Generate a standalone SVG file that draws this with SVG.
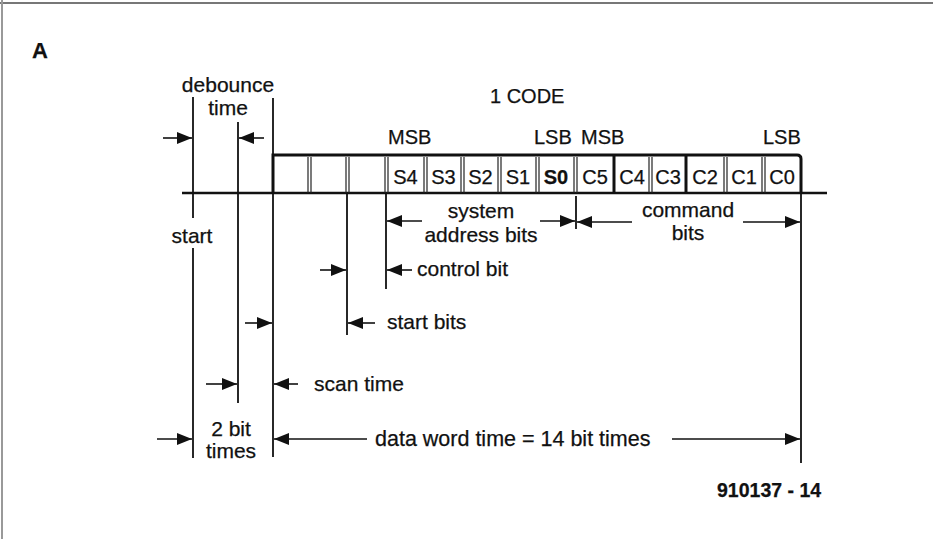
<svg xmlns="http://www.w3.org/2000/svg" width="933" height="539" viewBox="0 0 933 539">
<defs>
<marker id="ah" markerUnits="userSpaceOnUse" markerWidth="16" markerHeight="14" viewBox="0 0 16 14" refX="15" refY="7" orient="auto">
<path d="M0,1 L15,7 L0,13 z" fill="#111"/>
</marker>
<style>
text{font-family:"Liberation Sans",Arial,sans-serif;fill:#111;stroke:#111;stroke-width:0.25}
.lb{font-size:21px}
.ms{font-size:20px}
.cl{font-size:20px;text-anchor:middle}
.c{text-anchor:middle}
.thin{stroke:#111;stroke-width:1.8;fill:none}
.arr{stroke:#111;stroke-width:1.6;fill:none;marker-end:url(#ah)}
.dv{stroke:#222;stroke-width:1.2}
</style>
</defs>
<rect width="933" height="539" fill="#fff"/>
<line x1="0" y1="3" x2="933" y2="3" stroke="#777" stroke-width="2"/>
<line x1="2" y1="0" x2="2" y2="539" stroke="#999" stroke-width="2"/>

<g id="label-A"><text x="32" y="58" style="font-size:22px;font-weight:bold">A</text></g>
<g id="title"><text x="490" y="103" class="ms">1 CODE</text></g>
<g id="debounce"><text x="228" y="92" class="lb c">debounce</text><text x="228" y="115" class="lb c">time</text></g>
<g id="msb-lsb">
<text x="388" y="144" class="ms">MSB</text>
<text x="534" y="144" class="ms">LSB</text>
<text x="581" y="144" class="ms">MSB</text>
<text x="763" y="144" class="ms">LSB</text>
</g>

<g id="code-word">
<path d="M182,193 H827" stroke="#111" stroke-width="2.6" fill="none"/>
<path d="M273,193 V155 H797 Q801,155 801,159 V193" stroke="#111" stroke-width="3" fill="none"/>
<g>
<line class="dv" x1="308" y1="157" x2="308" y2="193"/><line class="dv" x1="311" y1="157" x2="311" y2="193"/>
<line class="dv" x1="346" y1="157" x2="346" y2="193"/><line class="dv" x1="349" y1="157" x2="349" y2="193"/>
<line class="dv" x1="385" y1="157" x2="385" y2="193"/><line class="dv" x1="388" y1="157" x2="388" y2="193"/>
<line class="dv" x1="424" y1="157" x2="424" y2="193"/><line class="dv" x1="427" y1="157" x2="427" y2="193"/>
<line class="dv" x1="461" y1="157" x2="461" y2="193"/><line class="dv" x1="464" y1="157" x2="464" y2="193"/>
<line class="dv" x1="498" y1="157" x2="498" y2="193"/><line class="dv" x1="501" y1="157" x2="501" y2="193"/>
<line class="dv" x1="536" y1="157" x2="536" y2="193"/><line class="dv" x1="539" y1="157" x2="539" y2="193"/>
<line class="dv" x1="574" y1="157" x2="574" y2="193"/><line class="dv" x1="577" y1="157" x2="577" y2="193"/>
<line x1="614" y1="156" x2="614" y2="193" stroke="#111" stroke-width="3"/>
<line class="dv" x1="649" y1="157" x2="649" y2="193"/><line class="dv" x1="652" y1="157" x2="652" y2="193"/>
<line x1="686" y1="156" x2="686" y2="193" stroke="#111" stroke-width="3"/>
<line class="dv" x1="724" y1="157" x2="724" y2="193"/><line class="dv" x1="727" y1="157" x2="727" y2="193"/>
<line class="dv" x1="762" y1="157" x2="762" y2="193"/><line class="dv" x1="765" y1="157" x2="765" y2="193"/>
</g>
<text x="405.5" y="184" class="cl">S4</text>
<text x="443.5" y="184" class="cl">S3</text>
<text x="480.5" y="184" class="cl">S2</text>
<text x="518" y="184" class="cl">S1</text>
<text x="556" y="184" class="cl" style="font-weight:bold">S0</text>
<text x="595" y="184" class="cl">C5</text>
<text x="632" y="184" class="cl">C4</text>
<text x="668" y="184" class="cl">C3</text>
<text x="705" y="184" class="cl">C2</text>
<text x="744" y="184" class="cl">C1</text>
<text x="782" y="184" class="cl">C0</text>
</g>

<g id="system-address"><text x="481" y="218" class="lb c">system</text><text x="481" y="242" class="lb c">address bits</text></g>
<g id="command"><text x="688" y="217" class="lb c">command</text><text x="688" y="240" class="lb c">bits</text></g>
<g id="start"><text x="192" y="243" class="lb c">start</text></g>
<g id="control-bit"><text x="417" y="276" class="lb">control bit</text></g>
<g id="start-bits"><text x="387" y="329" class="lb">start bits</text></g>
<g id="scan-time"><text x="314" y="391" class="lb">scan time</text></g>
<g id="two-bit-times"><text x="231" y="436" class="lb c">2 bit</text><text x="231" y="458" class="lb c">times</text></g>
<g id="data-word"><text x="375" y="446" style="font-size:21.5px">data word time = 14 bit times</text></g>
<g id="fig-number"><text x="717" y="497" style="font-size:19.5px;font-weight:bold">910137 - 14</text></g>

<g id="connectors">
<line class="thin" x1="193" y1="97" x2="193" y2="218"/>
<line class="thin" x1="193" y1="248" x2="193" y2="458"/>
<line class="thin" x1="238" y1="122" x2="238" y2="403"/>
<line class="thin" x1="273" y1="98" x2="273" y2="457"/>
<line class="thin" x1="347" y1="193" x2="347" y2="335"/>
<line class="thin" x1="386" y1="193" x2="386" y2="289"/>
<line class="thin" x1="576" y1="196" x2="576" y2="229"/>
<line class="thin" x1="801" y1="183" x2="801" y2="463"/>

<line class="arr" x1="163" y1="138" x2="192" y2="138"/>
<line class="arr" x1="264" y1="138" x2="239" y2="138"/>
<line class="arr" x1="422" y1="221" x2="387" y2="221"/>
<line class="arr" x1="540" y1="221" x2="575" y2="221"/>
<line class="arr" x1="632" y1="222" x2="577" y2="222"/>
<line class="arr" x1="743" y1="222" x2="800" y2="222"/>
<line class="arr" x1="320" y1="270" x2="346" y2="270"/>
<line class="arr" x1="412" y1="270" x2="387" y2="270"/>
<line class="arr" x1="245" y1="323" x2="272" y2="323"/>
<line class="arr" x1="375" y1="323" x2="348" y2="323"/>
<line class="arr" x1="206" y1="384" x2="237" y2="384"/>
<line class="arr" x1="298" y1="384" x2="274" y2="384"/>
<line class="arr" x1="157" y1="439" x2="192" y2="439"/>
<line class="arr" x1="367" y1="439" x2="274" y2="439"/>
<line class="arr" x1="672" y1="439" x2="800" y2="439"/>
</g>
</svg>
